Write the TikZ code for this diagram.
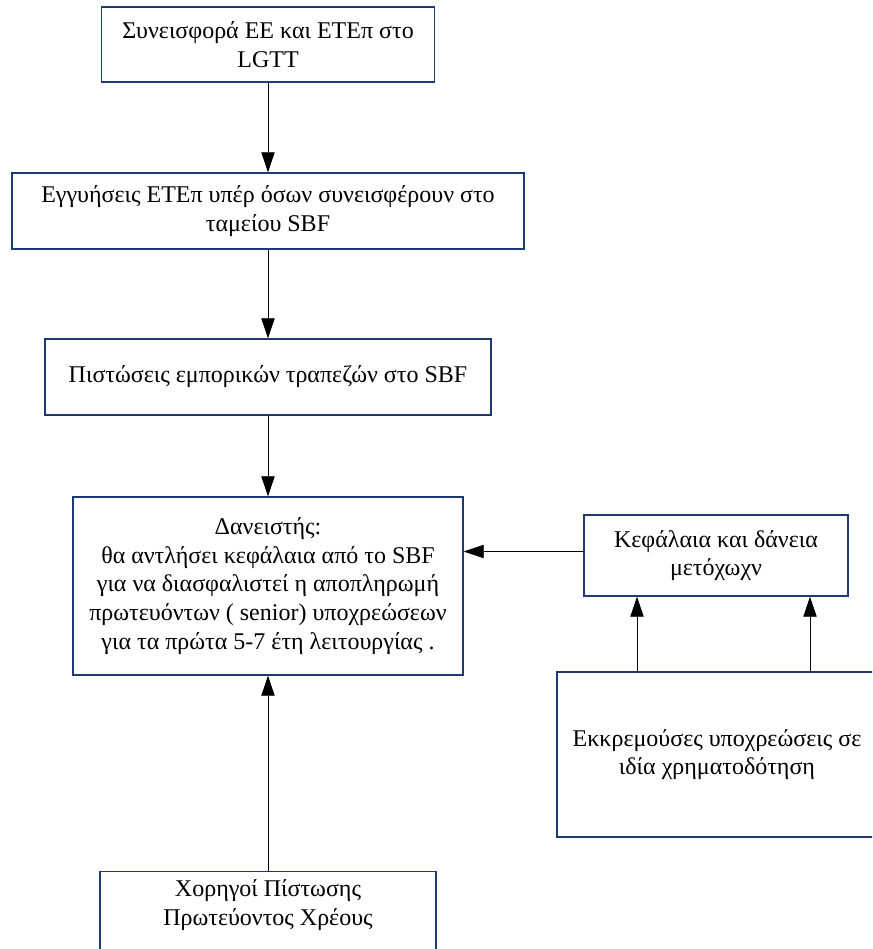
\documentclass[tikz,border=0pt]{standalone}
\usepackage{fontspec}
\setmainfont{Liberation Serif}
\usetikzlibrary{arrows.meta}
\definecolor{boxline}{HTML}{1F3A73}
\begin{document}
\begin{tikzpicture}[x=0.75pt,y=-0.75pt,
  box/.style={draw=boxline, line width=1.1pt, align=center, inner sep=0pt,
    font=\fontsize{18}{21.5}\selectfont},
  arr/.style={draw=black, line width=0.6pt, -{Triangle[length=15pt,width=10pt]}}]
\useasboundingbox (0,0) rectangle (872,949);
\begin{scope}
\clip (0,0) rectangle (872,949);
% left column of boxes
\node[box, minimum width=333*0.75pt, minimum height=75*0.75pt] (b1) at (268,44.5)
  {Συνεισφορά ΕΕ και ΕΤΕπ στο\\LGTT};
\node[box, minimum width=512*0.75pt, minimum height=76*0.75pt] (b2) at (268,211)
  {Εγγυήσεις ΕΤΕπ υπέρ όσων συνεισφέρουν στο\\ταμείου SBF};
\node[box, minimum width=446*0.75pt, minimum height=76*0.75pt] (b3) at (268,377)
  {Πιστώσεις εμπορικών τραπεζών στο SBF};
\node[box, minimum width=390*0.75pt, minimum height=178*0.75pt] (b4) at (268,586)
  {Δανειστής:\\θα αντλήσει κεφάλαια από το SBF\\για να διασφαλιστεί η αποπληρωμή\\πρωτευόντων ( senior) υποχρεώσεων\\για τα πρώτα 5-7 έτη λειτουργίας .};
\node[box, anchor=north, minimum width=336*0.75pt, minimum height=130*0.75pt] (b7) at (268,871)
  {\parbox[t][97.5pt][t]{240pt}{\centering\vspace{6pt}Χορηγοί Πίστωσης\\Πρωτεύοντος Χρέους}};
% right column
\node[box, minimum width=264*0.75pt, minimum height=81*0.75pt] (b5) at (716,555.5)
  {Κεφάλαια και δάνεια\\μετόχωχν};
\node[box, minimum width=320*0.75pt, minimum height=165*0.75pt] (b6) at (717,754.5)
  {Εκκρεμούσες υποχρεώσεις σε\\ιδία χρηματοδότηση};
\end{scope}
% connectors
\coordinate (cl) at (637,0);
\coordinate (cr) at (810,0);
\draw[arr] (b1.south) -- (b2.north);
\draw[arr] (b2.south) -- (b3.north);
\draw[arr] (b3.south) -- (b4.north);
\draw[arr] (b7.north) -- (b4.south);
\draw[arr] ([yshift=3pt]b5.west) -- ([yshift=3pt]b4.east |- b5.west);
\draw[arr] (b6.north -| cl) -- (b5.south -| cl);
\draw[arr] (b6.north -| cr) -- (b5.south -| cr);
\end{tikzpicture}
\end{document}
